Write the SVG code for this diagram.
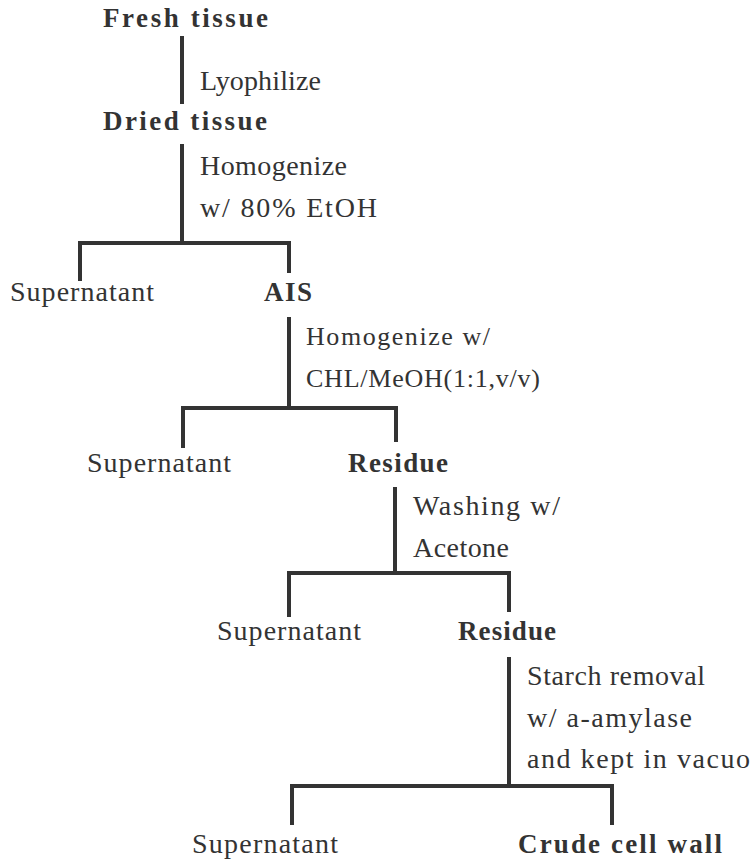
<svg xmlns="http://www.w3.org/2000/svg" width="754" height="859" viewBox="0 0 754 859">
<style>
text{font-family:"Liberation Serif","Times New Roman",serif;font-size:28px;fill:#333}
.b{font-weight:bold;font-size:27px}
.s{font-size:26px}
.c line{stroke:#333;stroke-width:4;stroke-linecap:butt}
</style>
<rect width="754" height="859" fill="#fff"/>
<g class="c" id="connectors">
<line x1="182" y1="36" x2="182" y2="104"/>
<line x1="182" y1="144" x2="182" y2="243"/>
<line x1="78" y1="243" x2="291" y2="243"/>
<line x1="80" y1="241" x2="80" y2="281"/>
<line x1="289" y1="241" x2="289" y2="273"/>
<line x1="289" y1="317" x2="289" y2="408"/>
<line x1="181" y1="408" x2="398" y2="408"/>
<line x1="183" y1="406" x2="183" y2="448"/>
<line x1="396" y1="406" x2="396" y2="442"/>
<line x1="395" y1="487" x2="395" y2="573"/>
<line x1="287" y1="573" x2="511" y2="573"/>
<line x1="289" y1="571" x2="289" y2="617"/>
<line x1="509" y1="571" x2="509" y2="612"/>
<line x1="509" y1="657" x2="509" y2="786"/>
<line x1="290" y1="786" x2="614" y2="786"/>
<line x1="292" y1="784" x2="292" y2="825"/>
<line x1="612" y1="784" x2="612" y2="825"/>
</g>
<g id="n-fresh"><text class="b" x="103" y="27" textLength="165" lengthAdjust="spacing">Fresh tissue</text></g>
<g id="l-lyo"><text x="200" y="90" textLength="121" lengthAdjust="spacing">Lyophilize</text></g>
<g id="n-dried"><text class="b" x="103" y="130" textLength="164" lengthAdjust="spacing">Dried tissue</text></g>
<g id="l-homog1"><text x="200" y="175" textLength="147" lengthAdjust="spacing">Homogenize</text><text x="200" y="217" textLength="177" lengthAdjust="spacing">w/ 80% EtOH</text></g>
<g id="n-sup1"><text x="10" y="301" textLength="144" lengthAdjust="spacing">Supernatant</text></g>
<g id="n-ais"><text class="b" x="264" y="301" textLength="48" lengthAdjust="spacing">AIS</text></g>
<g id="l-homog2"><text class="s" x="306" y="345" textLength="184" lengthAdjust="spacing">Homogenize w/</text><text class="s" x="306" y="387" textLength="234" lengthAdjust="spacing">CHL/MeOH(1:1,v/v)</text></g>
<g id="n-sup2"><text x="87" y="472" textLength="144" lengthAdjust="spacing">Supernatant</text></g>
<g id="n-res1"><text class="b" x="348" y="472" textLength="100" lengthAdjust="spacing">Residue</text></g>
<g id="l-wash"><text x="413" y="515" textLength="147" lengthAdjust="spacing">Washing w/</text><text x="413" y="557" textLength="96" lengthAdjust="spacing">Acetone</text></g>
<g id="n-sup3"><text x="217" y="640" textLength="144" lengthAdjust="spacing">Supernatant</text></g>
<g id="n-res2"><text class="b" x="458" y="640" textLength="98" lengthAdjust="spacing">Residue</text></g>
<g id="l-starch"><text x="527" y="685" textLength="178" lengthAdjust="spacing">Starch removal</text><text x="527" y="727" textLength="165" lengthAdjust="spacing">w/ a-amylase</text><text x="527" y="768" textLength="223" lengthAdjust="spacing">and kept in vacuo</text></g>
<g id="n-sup4"><text x="192" y="853" textLength="146" lengthAdjust="spacing">Supernatant</text></g>
<g id="n-crude"><text class="b" x="518" y="853" textLength="204" lengthAdjust="spacing">Crude cell wall</text></g>
</svg>
